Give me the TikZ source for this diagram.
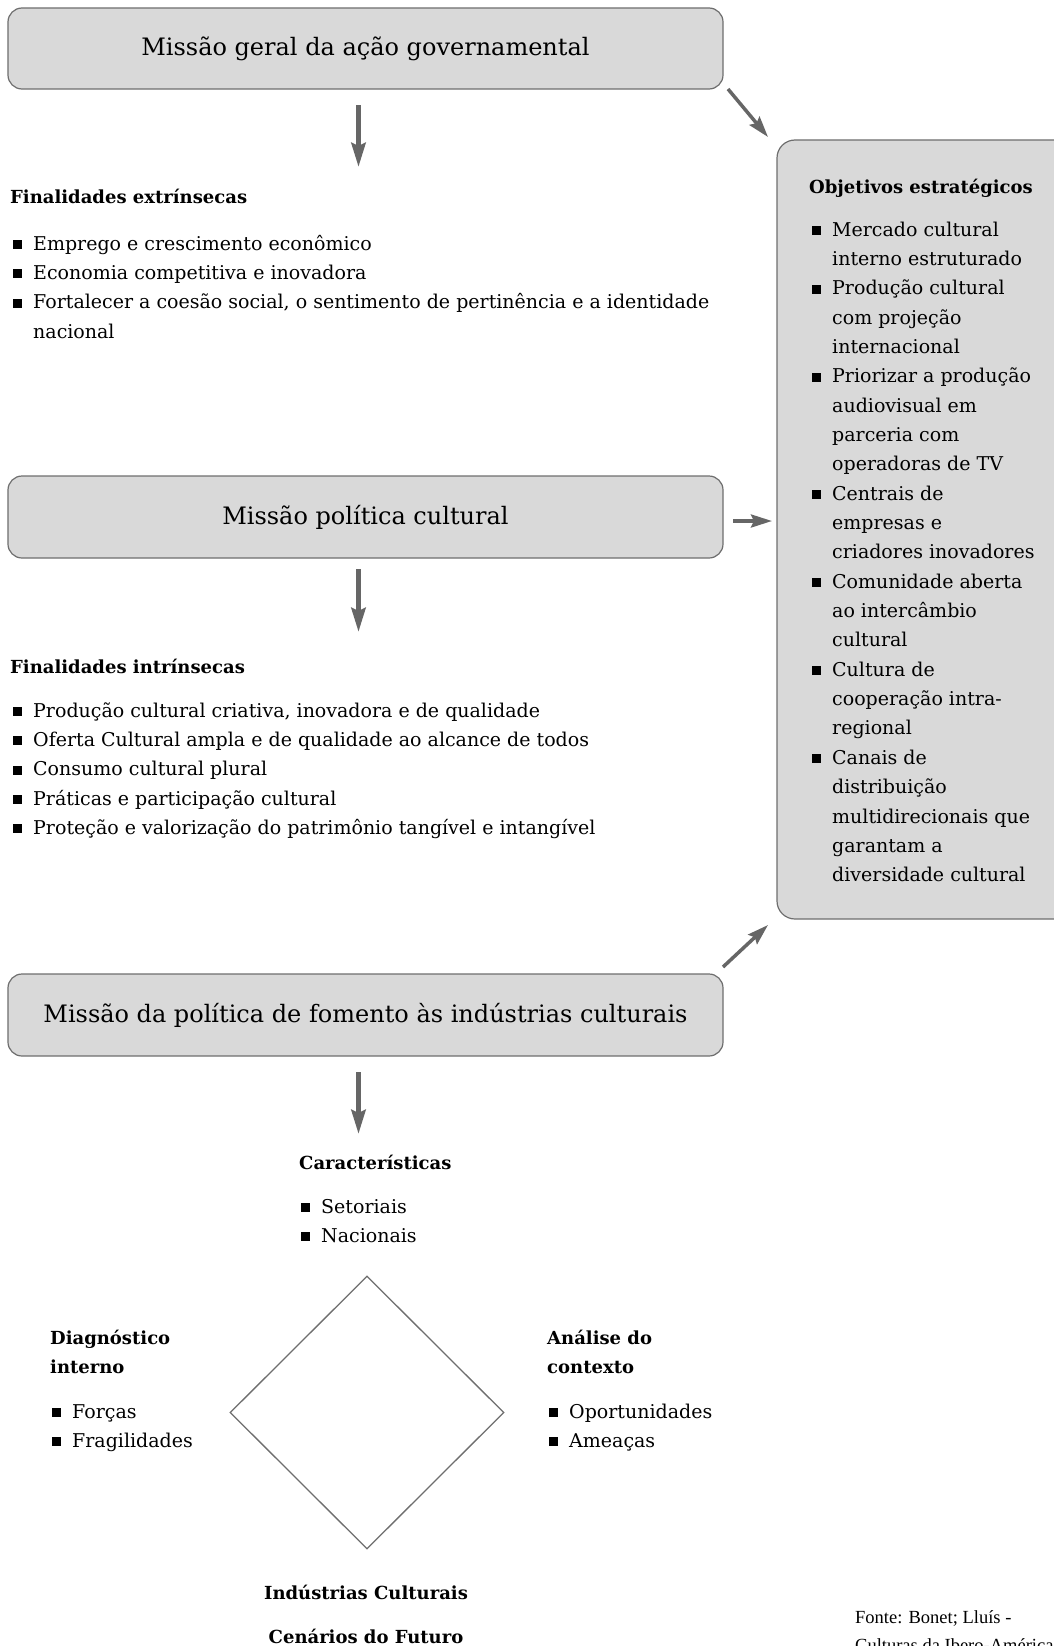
\documentclass[tikz,border=0pt]{standalone}
\usepackage{fontspec}
\setmainfont{DejaVu Serif}
\newfontfamily\fontefont{Liberation Serif}
\usetikzlibrary{arrows.meta,shapes.geometric}
\definecolor{cinzafundo}{HTML}{D9D9D9}
\definecolor{cinzalinha}{HTML}{6E6E6E}
\definecolor{cinzaseta}{HTML}{666666}
\newcommand\quadr{\rule[1bp]{9bp}{9bp}}
\newcommand\titulo{\fontsize{24bp}{28bp}\selectfont}
\newcommand\corpo{\fontsize{19bp}{29.35bp}\selectfont}
\newcommand\cabec{\fontsize{18bp}{29bp}\selectfont\bfseries}

\begin{document}
\begin{tikzpicture}[x=1bp,y=-1bp,
  caixa/.style={draw=cinzalinha,fill=cinzafundo,rounded corners=14bp,line width=1.2bp,
    minimum width=715bp,font=\titulo,inner sep=0pt},
  seta/.style={draw=cinzaseta,line width=5bp,-{Stealth[length=24bp,width=14bp,inset=3bp]}},
  setafina/.style={seta,line width=3.5bp,-{Stealth[length=21bp,width=13bp,inset=3bp]}},
  cabecalho/.style={anchor=base west,inner sep=0pt,align=left,font=\cabec},
  lista/.style={anchor=base west,inner sep=0pt,font=\corpo}]

  % caixas e textos
  \useasboundingbox (0,0) rectangle (1053,1646);
  \coordinate (s1a) at (358.5,105);
  \coordinate (s1b) at (358.5,167);
  \coordinate (d1a) at (728,89);
  \coordinate (d1b) at (768,137);
  \coordinate (r2a) at (733,521);
  \coordinate (r2b) at (772,521);
  \coordinate (s2a) at (358.5,569);
  \coordinate (s2b) at (358.5,632);
  \coordinate (d3a) at (723,967);
  \coordinate (d3b) at (768,925);
  \coordinate (s3a) at (358.5,1072);
  \coordinate (s3b) at (358.5,1134);

  \node[caixa,minimum height=81bp] (m1) at (365.5,48.5) {Missão geral da ação governamental};
  \node[caixa,minimum height=82bp] (m2) at (365.5,517) {Missão política cultural};
  \node[caixa,minimum height=82bp] (m3) at (365.5,1015) {Missão da política de fomento às indústrias culturais};
  \node[caixa,minimum width=303bp,minimum height=779bp,rounded corners=18bp] (obj) at (928.5,529.5) {};

  \node[cabecalho] (fext) at (10,203) {Finalidades extrínsecas};
  \node[lista] (lext) at (13,250) {\begin{tabular}[t]{@{}l@{\hspace{11bp}}l@{}}
    \quadr & Emprego e crescimento econômico\\
    \quadr & Economia competitiva e inovadora\\
    \quadr & Fortalecer a coesão social, o sentimento de pertinência e a identidade\\
    & nacional
  \end{tabular}};

  \node[cabecalho] (tobj) at (809,193) {Objetivos estratégicos};
  \node[lista] (lobj) at (812,236) {\begin{tabular}[t]{@{}l@{\hspace{11bp}}l@{}}
    \quadr & Mercado cultural\\
    & interno estruturado\\
    \quadr & Produção cultural\\
    & com projeção\\
    & internacional\\
    \quadr & Priorizar a produção\\
    & audiovisual em\\
    & parceria com\\
    & operadoras de TV\\
    \quadr & Centrais de\\
    & empresas e\\
    & criadores inovadores\\
    \quadr & Comunidade aberta\\
    & ao intercâmbio\\
    & cultural\\
    \quadr & Cultura de\\
    & cooperação intra-\\
    & regional\\
    \quadr & Canais de\\
    & distribuição\\
    & multidirecionais que\\
    & garantam a\\
    & diversidade cultural
  \end{tabular}};

  \node[cabecalho] (fint) at (10,673) {Finalidades intrínsecas};
  \node[lista] (lint) at (13,717) {\begin{tabular}[t]{@{}l@{\hspace{11bp}}l@{}}
    \quadr & Produção cultural criativa, inovadora e de qualidade\\
    \quadr & Oferta Cultural ampla e de qualidade ao alcance de todos\\
    \quadr & Consumo cultural plural\\
    \quadr & Práticas e participação cultural\\
    \quadr & Proteção e valorização do patrimônio tangível e intangível
  \end{tabular}};

  \node[cabecalho] (carac) at (299,1169) {Características};
  \node[lista] (lcarac) at (301,1213) {\begin{tabular}[t]{@{}l@{\hspace{11bp}}l@{}}
    \quadr & Setoriais\\
    \quadr & Nacionais
  \end{tabular}};

  \node[draw=cinzalinha,line width=1.3bp,diamond,minimum width=274bp,minimum height=273bp,inner sep=0pt] (los) at (367,1412.5) {};

  \node[cabecalho] (diag) at (50,1373) {Diagnóstico\\interno};
  \node[lista] (ldiag) at (52,1418) {\begin{tabular}[t]{@{}l@{\hspace{11bp}}l@{}}
    \quadr & Forças\\
    \quadr & Fragilidades
  \end{tabular}};
  \node[cabecalho] (anal) at (547,1373) {Análise do\\contexto};
  \node[lista] (lanal) at (549,1418) {\begin{tabular}[t]{@{}l@{\hspace{11bp}}l@{}}
    \quadr & Oportunidades\\
    \quadr & Ameaças
  \end{tabular}};

  \node[cabecalho,anchor=base] (ind) at (366,1599) {Indústrias Culturais};
  \node[cabecalho,anchor=base] (cen) at (366,1643) {Cenários do Futuro};
  \node[anchor=base west,inner sep=0pt,align=left,font={\fontefont\fontsize{18.5bp}{28bp}\selectfont}] (fonte) at (855,1651) {Fonte: Bonet; Lluís -\\Culturas da Ibero-América};

  \draw[seta] (s1a) -- (s1b);
  \draw[setafina] (d1a) -- (d1b);
  \draw[setafina] (r2a) -- (r2b);
  \draw[seta] (s2a) -- (s2b);
  \draw[setafina] (d3a) -- (d3b);
  \draw[seta] (s3a) -- (s3b);
\end{tikzpicture}
\end{document}
